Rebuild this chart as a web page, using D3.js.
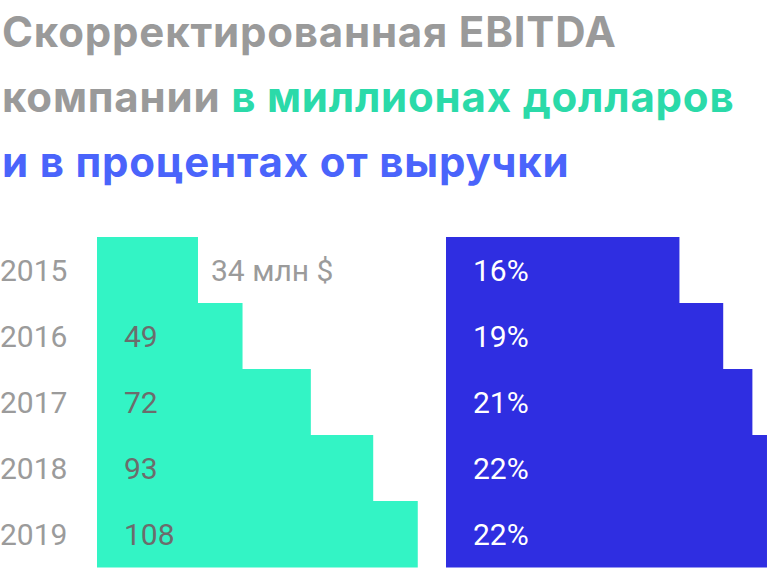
<!DOCTYPE html>
<html>
<head>
<meta charset="utf-8">
<script src="https://cdn.jsdelivr.net/npm/d3@7"></script>
<style>
  body { margin: 0; background: #fff; }
  svg { display: block; font-family: Roboto, "Noto Sans", sans-serif; }
</style>
</head>
<body>
<div id="the_chart"></div>
<script>
// data
var years = ["2015", "2016", "2017", "2018", "2019"];
var ebitda = [34, 49, 72, 93, 108]; // mln $
var margin = [16, 19, 21, 22, 22]; // % of revenue
var ebitdaLabels = ["34 млн $", "49", "72", "93", "108"];
var marginLabels = ["16%", "19%", "21%", "22%", "22%"];

var w = 768;
var h = 570;

var svg = d3.select("#the_chart")
    .append("svg")
    .attr("width", w)
    .attr("height", h);

// title, three lines
var title = svg.append("text")
    .attr("x", 2)
    .attr("font-family", "Inter, Roboto, sans-serif")
    .attr("font-weight", 700)
    .attr("font-size", 42)
    .attr("letter-spacing", 0.8);

title.append("tspan").attr("x", 2).attr("y", 47)
    .attr("fill", "#9a9a9a").text("Скорректированная EBITDA");
title.append("tspan").attr("x", 2).attr("y", 112)
    .attr("fill", "#9a9a9a").text("компании ");
title.append("tspan")
    .attr("fill", "#2bdaa9").text("в миллионах долларов");
title.append("tspan").attr("x", 2).attr("y", 177)
    .attr("fill", "#4a64fb").text("и в процентах от выручки");

// scales
var yscale = d3.scaleBand()
    .domain(years)
    .range([237, 567])
    .padding(0);

var xLeft = d3.scaleLinear()
    .domain([0, 100])
    .range([97, 394]);

var xRight = d3.scaleLinear()
    .domain([0, 20])
    .range([446, 737.8]);

var rows = years.map(function (y, i) {
    return { year: y, v: ebitda[i], p: margin[i], vl: ebitdaLabels[i], pl: marginLabels[i] };
});

// teal bars
svg.selectAll("rect.money")
    .data(rows)
    .enter().append("rect")
    .attr("class", "money")
    .attr("x", xLeft(0))
    .attr("y", function (d) { return yscale(d.year); })
    .attr("width", function (d) { return xLeft(d.v) - xLeft(0); })
    .attr("height", yscale.bandwidth() + 0.5)
    .attr("fill", "#33f4c5");

// blue bars
svg.selectAll("rect.pct")
    .data(rows)
    .enter().append("rect")
    .attr("class", "pct")
    .attr("x", xRight(0))
    .attr("y", function (d) { return yscale(d.year); })
    .attr("width", function (d) { return xRight(d.p) - xRight(0); })
    .attr("height", yscale.bandwidth() + 0.5)
    .attr("fill", "#2f2ee1");

var mid = function (d) { return yscale(d.year) + yscale.bandwidth() / 2 + 10.5; };

// year labels
svg.selectAll("text.year")
    .data(rows)
    .enter().append("text")
    .attr("class", "year")
    .attr("x", 0)
    .attr("y", mid)
    .attr("font-size", 30)
    .attr("fill", "#9b9b9b")
    .text(function (d) { return d.year; });

// money values: first one sits outside its bar
svg.selectAll("text.money")
    .data(rows)
    .enter().append("text")
    .attr("class", "money")
    .attr("x", function (d, i) { return i === 0 ? xLeft(d.v) + 13 : 124; })
    .attr("y", mid)
    .attr("font-size", 30)
    .attr("fill", function (d, i) { return i === 0 ? "#9b9b9b" : "#6c6c6c"; })
    .text(function (d) { return d.vl; });

// percent values
svg.selectAll("text.pct")
    .data(rows)
    .enter().append("text")
    .attr("class", "pct")
    .attr("x", 473)
    .attr("y", mid)
    .attr("font-size", 30)
    .attr("fill", "#ffffff")
    .text(function (d) { return d.pl; });
</script>
</body>
</html>
